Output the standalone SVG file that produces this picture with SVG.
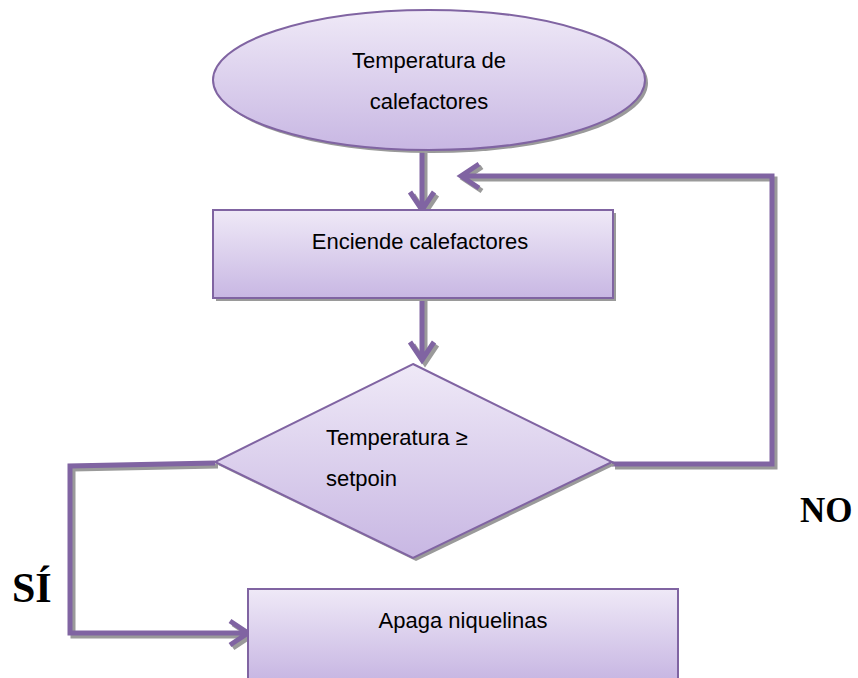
<svg xmlns="http://www.w3.org/2000/svg" width="858" height="678" viewBox="0 0 858 678">
<style>
.node{fill:url(#g);stroke:#8064a2;stroke-width:2}
.sh{fill:#9a9a9a}
.t{font-family:"Liberation Sans",Arial,sans-serif;font-size:22px;fill:#000}
.lbl{font-family:"Liberation Serif","Times New Roman",serif;font-weight:bold;fill:#000}
.c{fill:none;stroke:#8064a2;stroke-width:5;stroke-linejoin:miter}
.cs{fill:none;stroke:#9a9a9a;stroke-width:5}
</style>
<defs>
<linearGradient id="g" x1="0" y1="0" x2="0" y2="1">
<stop offset="0" stop-color="#efe9f7"/>
<stop offset="1" stop-color="#c8b7e3"/>
</linearGradient>
</defs>
<g id="connectors">
<g transform="translate(3,3)">
<path class="cs" d="M422 150 V210 M410 192 L422 210 L434 192"/>
<path class="cs" d="M422 298 V360 M410 342 L422 360 L434 342"/>
<path class="cs" d="M612 464 H772 V176 H461 M479 164 L461 176 L479 188"/>
<path class="cs" d="M215 463 L70 466 V633 H248 M230 621 L248 633 L230 645"/>
</g>
<path class="c" d="M422 150 V210 M410 192 L422 210 L434 192"/>
<path class="c" d="M422 298 V360 M410 342 L422 360 L434 342"/>
<path class="c" d="M612 464 H772 V176 H461 M479 164 L461 176 L479 188"/>
<path class="c" d="M215 463 L70 466 V633 H248 M230 621 L248 633 L230 645"/>
</g>
<g id="start">
<ellipse class="sh" cx="432" cy="83" rx="216" ry="70"/>
<ellipse class="node" cx="429" cy="80" rx="216" ry="70"/>
<text class="t" x="429" y="68" text-anchor="middle">Temperatura de</text>
<text class="t" x="429" y="109" text-anchor="middle">calefactores</text>
</g>
<g id="enciende">
<rect class="sh" x="216" y="213" width="400" height="88"/>
<rect class="node" x="213" y="210" width="400" height="88"/>
<text class="t" x="420" y="249" text-anchor="middle">Enciende calefactores</text>
</g>
<g id="decision">
<polygon class="sh" points="416,367 615,465 416,561 218,465"/>
<polygon class="node" points="413,364 612,462 413,558 215,462"/>
<text class="t" x="326" y="445">Temperatura ≥</text>
<text class="t" x="326" y="486">setpoin</text>
</g>
<g id="apaga">
<rect class="node" x="248" y="589" width="430" height="90"/>
<text class="t" x="463" y="628" text-anchor="middle">Apaga niquelinas</text>
</g>
<g id="labels">
<text class="lbl" x="800" y="522" font-size="35">NO</text>
<text class="lbl" x="12" y="602" font-size="42">SÍ</text>
</g>
</svg>
